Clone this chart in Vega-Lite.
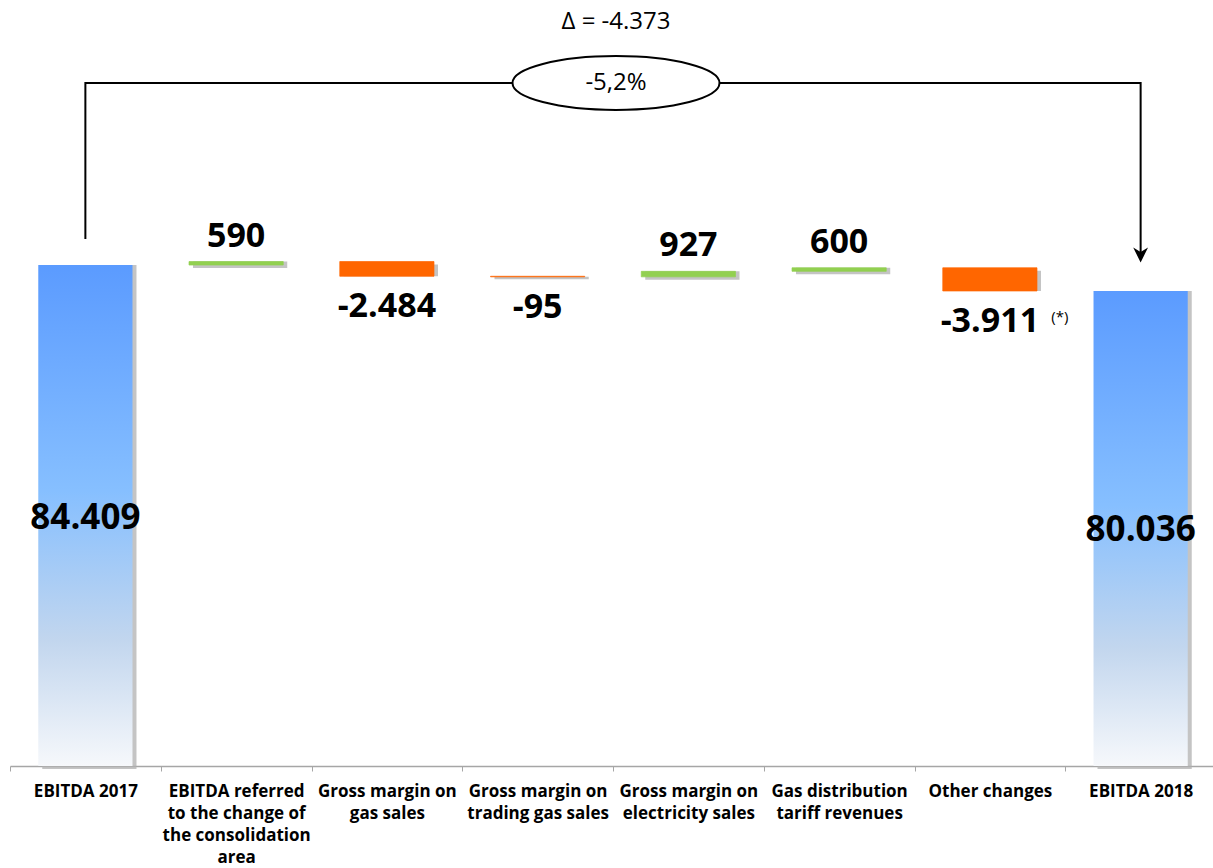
{
  "$schema": "https://vega.github.io/schema/vega-lite/v6.json",
  "width": 1206,
  "height": 766,
  "autosize": {"type": "none"},
  "padding": {"left": 10, "top": 0, "right": 0, "bottom": 102},
  "background": "white",
  "config": {
    "view": {"stroke": null},
    "axisX": {
      "domainColor": "#A6A6A6",
      "domainWidth": 1.5,
      "tickColor": "#A6A6A6",
      "tickSize": 5,
      "tickBand": "extent",
      "grid": false,
      "labelAngle": 0,
      "labelFont": "Open Sans",
      "labelFontWeight": "bold",
      "labelFontSize": 17,
      "labelColor": "#000000",
      "labelPadding": 12,
      "labelLineHeight": 22,
      "labelLimit": 300,
      "labelOverlap": false,
      "labelExpr": "split(datum.label, '|')"
    }
  },
  "datasets": {
    "bars": [
      {"cat": "EBITDA 2017", "start": 0, "end": 84409, "label": "84.409", "kind": "total", "note": ""},
      {"cat": "EBITDA referred|to the change of|the consolidation|area", "start": 84409, "end": 84999, "label": "590", "kind": "pos", "note": ""},
      {"cat": "Gross margin on|gas sales", "start": 84999, "end": 82515, "label": "-2.484", "kind": "neg", "note": ""},
      {"cat": "Gross margin on|trading gas sales", "start": 82515, "end": 82420, "label": "-95", "kind": "neg", "note": ""},
      {"cat": "Gross margin on|electricity sales", "start": 82420, "end": 83347, "label": "927", "kind": "pos", "note": ""},
      {"cat": "Gas distribution|tariff revenues", "start": 83347, "end": 83947, "label": "600", "kind": "pos", "note": ""},
      {"cat": "Other changes", "start": 83947, "end": 80036, "label": "-3.911", "kind": "neg", "note": "(*)"},
      {"cat": "EBITDA 2018", "start": 0, "end": 80036, "label": "80.036", "kind": "total", "note": ""}
    ],
    "notes": [
      {"role": "bracket", "cat": "EBITDA 2017", "v": 88795, "ord": 1, "text": ""},
      {"role": "bracket", "cat": "EBITDA 2017", "v": 115080, "ord": 2, "text": ""},
      {"role": "bracket", "cat": "EBITDA 2018", "v": 115080, "ord": 3, "text": ""},
      {"role": "bracket", "cat": "EBITDA 2018", "v": 86000, "ord": 4, "text": ""},
      {"role": "arrow", "cat": "EBITDA 2018", "v": 86099, "ord": 0, "text": ""},
      {"role": "ellipse", "cat": "Gross margin on|electricity sales", "v": 115080, "ord": 0, "text": "-5,2%"},
      {"role": "delta", "cat": "Gross margin on|electricity sales", "v": 125358, "ord": 0, "text": "Δ = -4.373"}
    ]
  },
  "layer": [
    {
      "data": {"name": "bars"},
      "mark": {"type": "bar", "color": "#B0B0B0", "opacity": 0.75, "xOffset": 4, "yOffset": 3, "width": {"band": 0.625}},
      "encoding": {
        "x": {"field": "cat", "type": "nominal", "title": null, "scale": {"domain": ["EBITDA 2017", "EBITDA referred|to the change of|the consolidation|area", "Gross margin on|gas sales", "Gross margin on|trading gas sales", "Gross margin on|electricity sales", "Gas distribution|tariff revenues", "Other changes", "EBITDA 2018"], "paddingInner": 0, "paddingOuter": 0}},
        "y": {"field": "start", "type": "quantitative", "scale": {"domain": [0, 129065], "nice": false}, "axis": null},
        "y2": {"field": "end"}
      }
    },
    {
      "data": {"name": "bars"},
      "transform": [{"filter": "datum.kind !== 'total'"}],
      "mark": {"type": "bar", "width": {"band": 0.625}, "strokeWidth": 0.7, "opacity": 1},
      "encoding": {
        "x": {"field": "cat", "type": "nominal", "title": null, "scale": {"domain": ["EBITDA 2017", "EBITDA referred|to the change of|the consolidation|area", "Gross margin on|gas sales", "Gross margin on|trading gas sales", "Gross margin on|electricity sales", "Gas distribution|tariff revenues", "Other changes", "EBITDA 2018"], "paddingInner": 0, "paddingOuter": 0}},
        "y": {"field": "start", "type": "quantitative", "scale": {"domain": [0, 129065], "nice": false}, "axis": null},
        "y2": {"field": "end"},
        "fill": {"field": "kind", "type": "nominal", "scale": {"domain": ["pos", "neg"], "range": ["#92D050", "#FF6600"]}, "legend": null},
        "stroke": {"field": "kind", "type": "nominal", "scale": {"domain": ["pos", "neg"], "range": ["#92D050", "#FF6600"]}, "legend": null}
      }
    },
    {
      "data": {"name": "bars"},
      "transform": [{"filter": "datum.kind === 'total'"}],
      "mark": {"type": "bar", "width": {"band": 0.625}, "color": {"gradient": "linear", "x1": 0, "y1": 0, "x2": 0, "y2": 1, "stops": [{"offset": 0, "color": "#5B9BFF"}, {"offset": 0.45, "color": "#86BFFF"}, {"offset": 0.75, "color": "#C2D6EE"}, {"offset": 1, "color": "#F6F8FB"}]}},
      "encoding": {
        "x": {"field": "cat", "type": "nominal", "title": null, "scale": {"domain": ["EBITDA 2017", "EBITDA referred|to the change of|the consolidation|area", "Gross margin on|gas sales", "Gross margin on|trading gas sales", "Gross margin on|electricity sales", "Gas distribution|tariff revenues", "Other changes", "EBITDA 2018"], "paddingInner": 0, "paddingOuter": 0}},
        "y": {"field": "start", "type": "quantitative", "scale": {"domain": [0, 129065], "nice": false}, "axis": null},
        "y2": {"field": "end"}
      }
    },
    {
      "data": {"name": "bars"},
      "transform": [{"filter": "datum.kind === 'pos'"}],
      "mark": {"type": "text", "font": "Open Sans", "fontWeight": "bold", "fontSize": 34, "color": "#000000", "baseline": "middle", "align": "center", "dy": -25},
      "encoding": {
        "x": {"field": "cat", "type": "nominal", "title": null, "scale": {"domain": ["EBITDA 2017", "EBITDA referred|to the change of|the consolidation|area", "Gross margin on|gas sales", "Gross margin on|trading gas sales", "Gross margin on|electricity sales", "Gas distribution|tariff revenues", "Other changes", "EBITDA 2018"], "paddingInner": 0, "paddingOuter": 0}},
        "y": {"field": "end", "type": "quantitative", "scale": {"domain": [0, 129065], "nice": false}, "axis": null},
        "text": {"field": "label"}
      }
    },
    {
      "data": {"name": "bars"},
      "transform": [{"filter": "datum.kind === 'neg'"}],
      "mark": {"type": "text", "font": "Open Sans", "fontWeight": "bold", "fontSize": 34, "color": "#000000", "baseline": "middle", "align": "center", "dy": 31},
      "encoding": {
        "x": {"field": "cat", "type": "nominal", "title": null, "scale": {"domain": ["EBITDA 2017", "EBITDA referred|to the change of|the consolidation|area", "Gross margin on|gas sales", "Gross margin on|trading gas sales", "Gross margin on|electricity sales", "Gas distribution|tariff revenues", "Other changes", "EBITDA 2018"], "paddingInner": 0, "paddingOuter": 0}},
        "y": {"field": "end", "type": "quantitative", "scale": {"domain": [0, 129065], "nice": false}, "axis": null},
        "text": {"field": "label"}
      }
    },
    {
      "data": {"name": "bars"},
      "transform": [{"filter": "datum.note !== ''"}],
      "mark": {"type": "text", "font": "Open Sans", "fontSize": 15, "color": "#000000", "baseline": "middle", "align": "center", "dx": 70, "dy": 26},
      "encoding": {
        "x": {"field": "cat", "type": "nominal", "title": null, "scale": {"domain": ["EBITDA 2017", "EBITDA referred|to the change of|the consolidation|area", "Gross margin on|gas sales", "Gross margin on|trading gas sales", "Gross margin on|electricity sales", "Gas distribution|tariff revenues", "Other changes", "EBITDA 2018"], "paddingInner": 0, "paddingOuter": 0}},
        "y": {"field": "end", "type": "quantitative", "scale": {"domain": [0, 129065], "nice": false}, "axis": null},
        "text": {"field": "note"}
      }
    },
    {
      "data": {"name": "bars"},
      "transform": [
        {"filter": "datum.kind === 'total'"},
        {"fold": ["start", "end"], "as": ["k", "v"]},
        {"aggregate": [{"op": "mean", "field": "v", "as": "mid"}], "groupby": ["cat", "label"]}
      ],
      "mark": {"type": "text", "font": "Open Sans", "fontWeight": "bold", "fontSize": 35, "color": "#000000", "baseline": "middle", "align": "center", "dy": 2},
      "encoding": {
        "x": {"field": "cat", "type": "nominal", "title": null, "scale": {"domain": ["EBITDA 2017", "EBITDA referred|to the change of|the consolidation|area", "Gross margin on|gas sales", "Gross margin on|trading gas sales", "Gross margin on|electricity sales", "Gas distribution|tariff revenues", "Other changes", "EBITDA 2018"], "paddingInner": 0, "paddingOuter": 0}},
        "y": {"field": "mid", "type": "quantitative", "scale": {"domain": [0, 129065], "nice": false}, "axis": null},
        "text": {"field": "label"}
      }
    },
    {
      "data": {"name": "notes"},
      "transform": [{"filter": "datum.role === 'bracket'"}],
      "mark": {"type": "line", "color": "#000000", "strokeWidth": 2},
      "encoding": {
        "x": {"field": "cat", "type": "nominal", "title": null, "scale": {"domain": ["EBITDA 2017", "EBITDA referred|to the change of|the consolidation|area", "Gross margin on|gas sales", "Gross margin on|trading gas sales", "Gross margin on|electricity sales", "Gas distribution|tariff revenues", "Other changes", "EBITDA 2018"], "paddingInner": 0, "paddingOuter": 0}},
        "y": {"field": "v", "type": "quantitative", "scale": {"domain": [0, 129065], "nice": false}, "axis": null},
        "order": {"field": "ord", "type": "quantitative"}
      }
    },
    {
      "data": {"name": "notes"},
      "transform": [{"filter": "datum.role === 'arrow'"}],
      "mark": {"type": "point", "shape": "M-1,-1L0,1L1,-1L0,-0.4Z", "size": 220, "filled": true, "color": "#000000", "opacity": 1},
      "encoding": {
        "x": {"field": "cat", "type": "nominal", "title": null, "scale": {"domain": ["EBITDA 2017", "EBITDA referred|to the change of|the consolidation|area", "Gross margin on|gas sales", "Gross margin on|trading gas sales", "Gross margin on|electricity sales", "Gas distribution|tariff revenues", "Other changes", "EBITDA 2018"], "paddingInner": 0, "paddingOuter": 0}},
        "y": {"field": "v", "type": "quantitative", "scale": {"domain": [0, 129065], "nice": false}, "axis": null}
      }
    },
    {
      "data": {"name": "notes"},
      "transform": [{"filter": "datum.role === 'ellipse'"}],
      "mark": {"type": "point", "shape": "M-1,0A1,0.26,0,1,1,1,0A1,0.26,0,1,1,-1,0Z", "size": 42849, "filled": true, "fill": "#FFFFFF", "stroke": "#000000", "strokeWidth": 2, "opacity": 1, "xOffset": 3},
      "encoding": {
        "x": {"field": "cat", "type": "nominal", "title": null, "bandPosition": 0, "scale": {"domain": ["EBITDA 2017", "EBITDA referred|to the change of|the consolidation|area", "Gross margin on|gas sales", "Gross margin on|trading gas sales", "Gross margin on|electricity sales", "Gas distribution|tariff revenues", "Other changes", "EBITDA 2018"], "paddingInner": 0, "paddingOuter": 0}},
        "y": {"field": "v", "type": "quantitative", "scale": {"domain": [0, 129065], "nice": false}, "axis": null}
      }
    },
    {
      "data": {"name": "notes"},
      "transform": [{"filter": "datum.role === 'ellipse' || datum.role === 'delta'"}],
      "mark": {"type": "text", "font": "Open Sans", "fontSize": 24, "color": "#000000", "baseline": "middle", "align": "center", "dx": 3},
      "encoding": {
        "x": {"field": "cat", "type": "nominal", "title": null, "bandPosition": 0, "scale": {"domain": ["EBITDA 2017", "EBITDA referred|to the change of|the consolidation|area", "Gross margin on|gas sales", "Gross margin on|trading gas sales", "Gross margin on|electricity sales", "Gas distribution|tariff revenues", "Other changes", "EBITDA 2018"], "paddingInner": 0, "paddingOuter": 0}},
        "y": {"field": "v", "type": "quantitative", "scale": {"domain": [0, 129065], "nice": false}, "axis": null},
        "text": {"field": "text"}
      }
    }
  ]
}
